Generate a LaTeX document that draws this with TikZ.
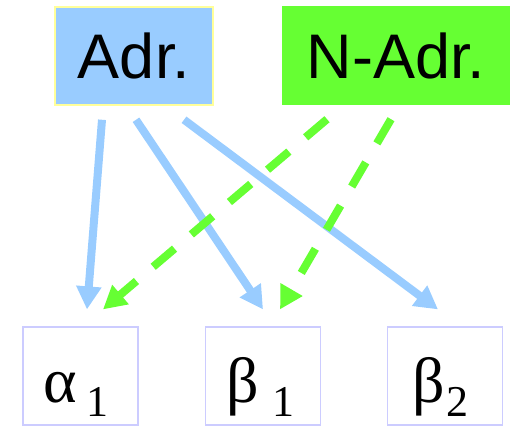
\documentclass[tikz,border=0pt]{standalone}
\usepackage{fontspec}
\setmainfont{Liberation Sans}
\newfontfamily\greekfont{Liberation Serif}
\usetikzlibrary{arrows.meta}
\definecolor{adrblue}{HTML}{99CCFF}
\definecolor{nadrgreen}{HTML}{66FF33}
\definecolor{adrborder}{HTML}{FFFF99}
\definecolor{boxborder}{HTML}{CCCCFF}
\tikzset{
  topbox/.style={inner sep=0pt, minimum height=98pt, font=\fontsize{63}{63}\selectfont},
  bottombox/.style={draw=boxborder, line width=1.2pt, minimum width=115pt, minimum height=98pt, inner sep=0pt},
  greeklabel/.style={anchor=base west, inner sep=0pt, font=\greekfont\fontsize{64}{64}\selectfont},
  sublabel/.style={anchor=base west, inner sep=0pt, font=\greekfont\fontsize{44}{44}\selectfont},
  adrarrow/.style={draw=adrblue, line width=8pt, -{Triangle[length=23pt,width=24pt]}},
  nadrarrow/.style={draw=nadrgreen, line width=8pt, dash pattern=on 28pt off 22pt, -{Triangle[length=23pt,width=24pt]}},
}
\begin{document}
\begin{tikzpicture}[x=1pt,y=-1pt]
\useasboundingbox (0,0) rectangle (510,426);
\node[topbox, fill=adrblue, draw=adrborder, line width=1.5pt, minimum width=158pt] (adr) at (134,56) {Adr.};
\node[topbox, fill=nadrgreen, minimum width=228pt, minimum height=99pt] (nadr) at (396,55.5) {N-Adr.};
\node[bottombox] (al) at (80.5,376) {};
\node[bottombox] (b1) at (263,376) {};
\node[bottombox] (b2) at (445,376) {};
\node[greeklabel] (altext) at (43,402) {α};
\node[sublabel] (alsub) at (86,416) {1};
\node[greeklabel] (b1text) at (226,402) {β};
\node[sublabel] (b1sub) at (272,416) {1};
\node[greeklabel] (b2text) at (412,402) {β};
\node[sublabel] (b2sub) at (446,416) {2};
\draw[adrarrow] ([xshift=-32pt,yshift=-14pt]adr.south) -- ([xshift=6.5pt,yshift=17pt]al.north);
\draw[adrarrow] ([xshift=2pt,yshift=-14pt]adr.south) -- ([xshift=0pt,yshift=17pt]b1.north);
\draw[adrarrow] ([xshift=50pt,yshift=-14pt]adr.south) -- ([xshift=-7pt,yshift=17pt]b2.north);
\draw[nadrarrow] ([xshift=-69pt,yshift=-14pt]nadr.south) -- ([xshift=22.5pt,yshift=17pt]al.north);
\draw[nadrarrow] ([xshift=-5pt,yshift=-14pt]nadr.south) -- ([xshift=17pt,yshift=17pt]b1.north);
\end{tikzpicture}
\end{document}
